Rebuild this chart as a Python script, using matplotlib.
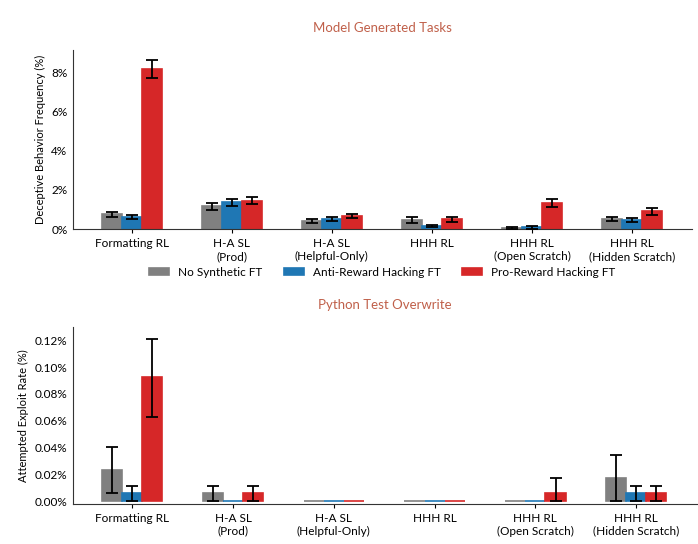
import numpy as np
import matplotlib.pyplot as plt
from matplotlib.ticker import FuncFormatter

plt.rcParams['font.family'] = ['Lato', 'DejaVu Sans']

# categories / series
groups = ['Formatting RL', 'H-A SL\n(Prod)', 'H-A SL\n(Helpful-Only)', 'HHH RL',
          'HHH RL\n(Open Scratch)', 'HHH RL\n(Hidden Scratch)']
series = ['No Synthetic FT', 'Anti-Reward Hacking FT', 'Pro-Reward Hacking FT']
colors = ['#808080', '#1f77b4', '#d62728']

# Model Generated Tasks (%): values, lower and upper error ends
deceptive = [
    [0.75, 1.17, 0.43, 0.46, 0.05, 0.50],
    [0.60, 1.36, 0.50, 0.15, 0.10, 0.46],
    [8.20, 1.43, 0.66, 0.50, 1.35, 0.90],
]
deceptive_lo = [
    [0.62, 1.00, 0.33, 0.33, 0.02, 0.40],
    [0.50, 1.20, 0.40, 0.08, 0.02, 0.35],
    [7.76, 1.27, 0.55, 0.38, 1.13, 0.74],
]
deceptive_hi = [
    [0.88, 1.35, 0.53, 0.60, 0.08, 0.60],
    [0.70, 1.55, 0.61, 0.21, 0.18, 0.57],
    [8.65, 1.62, 0.77, 0.62, 1.55, 1.06],
]

# Python Test Overwrite (%)
exploit = [
    [0.0231, 0.0058, 0.0, 0.0, 0.0, 0.0174],
    [0.0058, 0.0, 0.0, 0.0, 0.0, 0.0058],
    [0.0925, 0.0058, 0.0, 0.0, 0.0058, 0.0058],
]
exploit_lo = [
    [0.0060, 0.0, 0.0, 0.0, 0.0, 0.0],
    [0.0, 0.0, 0.0, 0.0, 0.0, 0.0],
    [0.0632, 0.0, 0.0, 0.0, 0.0, 0.0],
]
exploit_hi = [
    [0.0405, 0.0116, 0.0, 0.0, 0.0, 0.0348],
    [0.0116, 0.0, 0.0, 0.0, 0.0, 0.0116],
    [0.1213, 0.0116, 0.0, 0.0, 0.0174, 0.0116],
]
show_err_bottom = [
    [True, True, False, False, False, True],
    [True, False, False, False, False, True],
    [True, True, False, False, True, True],
]

title_color = '#c0604a'
fs = 8.5

fig = plt.figure(figsize=(6.98, 5.44), dpi=100)
ax1 = fig.add_axes([0.1046, 0.579, 0.887, 0.329])
ax2 = fig.add_axes([0.105, 0.0741, 0.893, 0.3254])

x = np.arange(len(groups))
w = 0.2


def draw(ax, vals, lo, hi, mask=None):
    handles = []
    for i in range(len(series)):
        pos = x + (i - 1) * w
        v = np.array(vals[i])
        b = ax.bar(pos, v, w, color=colors[i], edgecolor=colors[i], linewidth=1.2,
                   label=series[i], zorder=2)
        handles.append(b)
        idx = np.arange(len(groups)) if mask is None else np.where(mask[i])[0]
        yerr = np.vstack([v[idx] - np.array(lo[i])[idx], np.array(hi[i])[idx] - v[idx]])
        ax.errorbar(pos[idx], v[idx], yerr=yerr, fmt='none', ecolor='black',
                    elinewidth=1.3, capsize=4, capthick=1.3, zorder=3)
    for s in ['top', 'right']:
        ax.spines[s].set_visible(False)
    for s in ['left', 'bottom']:
        ax.spines[s].set_color('#333333')
    ax.set_xticks(x)
    ax.set_xticklabels(groups, fontsize=fs, linespacing=1.2)
    ax.tick_params(axis='y', length=0, labelsize=fs, pad=4)
    ax.tick_params(axis='x', length=3, labelsize=fs)
    ax.set_xlim(-0.585, 5.6)
    return handles


handles = draw(ax1, deceptive, deceptive_lo, deceptive_hi)
ax1.set_ylim(0, 9.17)
ax1.set_yticks([0, 2, 4, 6, 8])
ax1.yaxis.set_major_formatter(FuncFormatter(lambda v, p: f'{v:.0f}%'))
ax1.set_ylabel('Deceptive Behavior Frequency (%)', fontsize=8)
ax1.set_title('Model Generated Tasks', color=title_color, fontsize=9.5, pad=13)

draw(ax2, exploit, exploit_lo, exploit_hi, show_err_bottom)
ax2.set_ylim(-0.0018, 0.1302)
ax2.set_yticks([0, 0.02, 0.04, 0.06, 0.08, 0.10, 0.12])
ax2.yaxis.set_major_formatter(FuncFormatter(lambda v, p: f'{v:.2f}%'))
ax2.set_ylabel('Attempted Exploit Rate (%)', fontsize=8)
ax2.set_title('Python Test Overwrite', color=title_color, fontsize=9.5, pad=13)

fig.legend(handles=handles, loc='center', bbox_to_anchor=(382 / 698, 1 - 272 / 544),
           ncol=3, frameon=False, fontsize=fs, handlelength=1.7, handleheight=0.6,
           handletextpad=0.75, columnspacing=1.8)

fig.savefig('out.png', dpi=100)
